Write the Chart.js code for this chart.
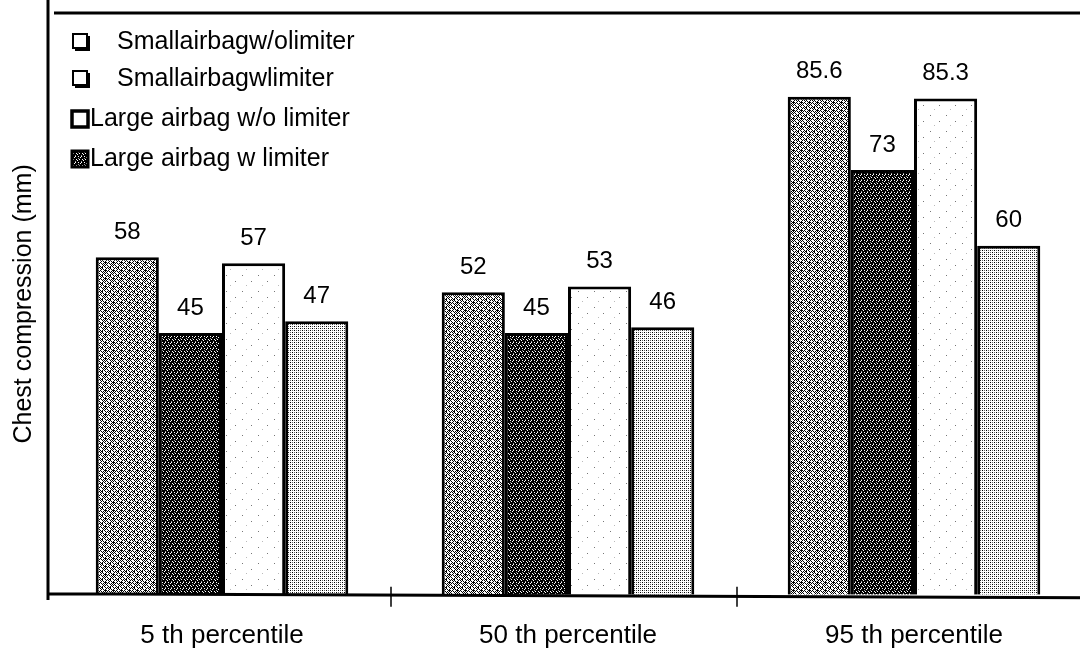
<!DOCTYPE html>
<html>
<head>
<meta charset="utf-8">
<script src="https://cdn.jsdelivr.net/npm/chart.js@4/dist/chart.umd.min.js"></script>
<style>
  html, body { margin: 0; padding: 0; background: #fff; overflow: hidden; }
  #wrap { width: 1080px; height: 653px; overflow: hidden; position: relative; }
  #c { position: absolute; left: 0; top: 0; }
</style>
</head>
<body>
<div id="wrap"><canvas id="c" width="1087" height="676"></canvas></div>
<script>
// Dummy percentile groups and the four airbag configurations
const categories = ['5 th percentile', '50 th percentile', '95 th percentile'];
const seriesNames = [
  'Smallairbagw/olimiter',
  'Smallairbagwlimiter',
  'Large airbag w/o limiter',
  'Large airbag w limiter'
];
// Chest compression (mm) per configuration
const smallNoLimiter = [58, 52, 85.6];
const smallLimiter = [45, 45, 73];
const largeNoLimiter = [57, 53, 85.3];
const largeLimiter = [47, 46, 60];
const yRange = [0, 100];

const FONT = "'Liberation Sans', Arial, Helvetica, sans-serif";

// Halftone-like fills built from small pixel tiles
function makePattern(size, paint) {
  const c = document.createElement('canvas');
  c.width = size; c.height = size;
  const g = c.getContext('2d');
  g.fillStyle = '#fff';
  g.fillRect(0, 0, size, size);
  paint(g, size);
  return document.getElementById('c').getContext('2d').createPattern(c, 'repeat');
}
const fillMedium = makePattern(8, (g, s) => {
  g.fillStyle = '#000';
  const skip = ['2,2', '5,1', '0,4', '3,5', '6,6', '7,3', '4,0'];
  for (let y = 0; y < s; y++) for (let x = 0; x < s; x++) {
    if ((x + y) % 2 === 0 && !skip.includes(x + ',' + y)) g.fillRect(x, y, 1, 1);
  }
  g.fillRect(1, 6, 1, 1); g.fillRect(6, 3, 1, 1);
});
const fillDark = makePattern(6, (g, s) => {
  g.fillStyle = '#000';
  g.fillRect(0, 0, s, s);
  g.fillStyle = '#fff';
  g.fillRect(0, 0, 1, 1); g.fillRect(3, 0, 1, 1);
  g.fillRect(1, 3, 1, 1); g.fillRect(4, 3, 1, 1);
  g.fillRect(2, 1, 1, 1); g.fillRect(5, 4, 1, 1);
  g.fillStyle = '#999';
  g.fillRect(0, 2, 1, 1); g.fillRect(3, 5, 1, 1);
});
const fillSparse = makePattern(16, (g) => {
  g.fillStyle = '#777';
  g.fillRect(2, 3, 1, 1); g.fillRect(11, 9, 1, 1);
  g.fillStyle = '#bbb';
  g.fillRect(6, 13, 1, 1);
});
const fillLight = makePattern(4, (g) => {
  g.fillStyle = '#000';
  g.fillRect(0, 0, 1, 1); g.fillRect(2, 2, 1, 1);
  g.fillStyle = '#666';
  g.fillRect(2, 0, 1, 1); g.fillRect(0, 2, 1, 1);
});

const fills = [fillMedium, fillDark, fillSparse, fillLight];
const seriesValues = [smallNoLimiter, smallLimiter, largeNoLimiter, largeLimiter];

// Frame: heavy left rule, top rule, baseline with "+" marks between groups
const framePlugin = {
  id: 'frame',
  afterDatasetsDraw(chart) {
    const { ctx, chartArea: a, scales: { x } } = chart;
    ctx.save();
    ctx.strokeStyle = '#000';
    ctx.lineWidth = 3;
    ctx.beginPath();
    ctx.moveTo(48, 0); ctx.lineTo(48, 600);
    ctx.moveTo(54, a.top); ctx.lineTo(1087, a.top);
    ctx.moveTo(48, a.bottom - 1); ctx.lineTo(1087, a.bottom + 3);
    ctx.stroke();
    ctx.lineWidth = 1.5;
    ctx.beginPath();
    for (let i = 0; i < categories.length - 1; i++) {
      const bx = (x.getPixelForValue(i) + x.getPixelForValue(i + 1)) / 2 - 4;
      ctx.moveTo(bx, a.bottom - 8); ctx.lineTo(bx, a.bottom + 12);
    }
    ctx.stroke();
    ctx.restore();
  }
};

// Value above every bar
const valuePlugin = {
  id: 'values',
  afterDatasetsDraw(chart) {
    const { ctx } = chart;
    ctx.save();
    ctx.fillStyle = '#000';
    ctx.font = '24px ' + FONT;
    ctx.textAlign = 'center';
    ctx.textBaseline = 'middle';
    chart.data.datasets.forEach((ds, di) => {
      chart.getDatasetMeta(di).data.forEach((el, i) => {
        ctx.fillText(String(ds.data[i]), el.x, el.y - 25);
      });
    });
    ctx.restore();
  }
};

// Legend block in the upper-left corner of the plot
const legendPlugin = {
  id: 'boxLegend',
  afterDraw(chart) {
    const { ctx } = chart;
    const rows = [
      { y: 42, box: 73, text: 117, kind: 'shadow' },
      { y: 79, box: 73, text: 117, kind: 'shadow' },
      { y: 119, box: 72, text: 90, kind: 'bold' },
      { y: 159, box: 72, text: 90, kind: 'filled' }
    ];
    ctx.save();
    ctx.font = '25px ' + FONT;
    ctx.textBaseline = 'middle';
    ctx.textAlign = 'left';
    chart.data.datasets.forEach((ds, i) => {
      const r = rows[i];
      ctx.strokeStyle = '#000';
      ctx.fillStyle = '#000';
      if (r.kind === 'shadow') {
        ctx.fillRect(r.box + 2, r.y - 6, 15, 15);
        ctx.fillStyle = '#fff';
        ctx.fillRect(r.box, r.y - 8, 14, 14);
        ctx.lineWidth = 2;
        ctx.strokeRect(r.box, r.y - 8, 14, 14);
      } else if (r.kind === 'bold') {
        ctx.fillStyle = '#fff';
        ctx.fillRect(r.box, r.y - 8, 16, 16);
        ctx.lineWidth = 3.5;
        ctx.strokeRect(r.box, r.y - 8, 16, 16);
      } else {
        ctx.fillStyle = fillDark;
        ctx.fillRect(r.box, r.y - 8, 16, 16);
        ctx.lineWidth = 3;
        ctx.strokeRect(r.box, r.y - 8, 16, 16);
      }
      ctx.fillStyle = '#000';
      ctx.fillText(ds.label, r.text, r.y);
    });
    ctx.restore();
  }
};

new Chart(document.getElementById('c'), {
  type: 'bar',
  data: {
    labels: categories,
    datasets: seriesNames.map((name, i) => ({
      label: name,
      data: seriesValues[i],
      backgroundColor: fills[i],
      borderColor: '#000',
      borderWidth: 3,
      borderSkipped: 'bottom',
      categoryPercentage: 0.73,
      barPercentage: 1.0
    }))
  },
  options: {
    responsive: false,
    animation: false,
    layout: { padding: { left: 5, right: 0, top: 13, bottom: 0 } },
    plugins: {
      legend: { display: false },
      tooltip: { enabled: false }
    },
    scales: {
      x: {
        grid: { display: false, drawTicks: false },
        border: { display: false },
        ticks: { color: '#000', font: { family: FONT, size: 26 }, padding: 25, maxRotation: 0 }
      },
      y: {
        min: yRange[0],
        max: yRange[1],
        grid: { display: false, drawTicks: false },
        border: { display: false },
        ticks: { display: false },
        title: {
          display: true,
          text: 'Chest compression (mm)',
          color: '#000',
          font: { family: FONT, size: 25 },
          padding: { top: 4, bottom: 10 }
        }
      }
    }
  },
  plugins: [framePlugin, valuePlugin, legendPlugin]
});
</script>
</body>
</html>
